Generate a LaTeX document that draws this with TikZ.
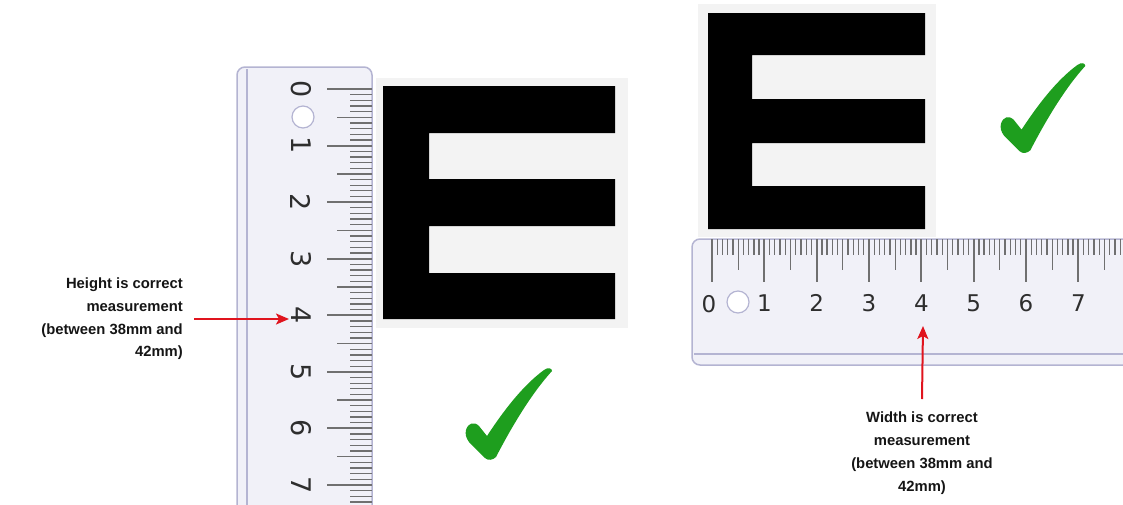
\documentclass[tikz,border=0pt]{standalone}
\usepackage{fontspec}
\setmainfont{Liberation Sans}
\newfontfamily\rulerfont{DejaVu Sans}
\usetikzlibrary{arrows.meta}
\definecolor{rulerfill}{HTML}{F1F1F8}
\definecolor{rulerline}{HTML}{B4B4D2}
\definecolor{tickgray}{HTML}{707070}
\definecolor{numgray}{HTML}{2E2E2E}
\definecolor{egray}{HTML}{F3F3F3}
\definecolor{checkgreen}{HTML}{1E9E1E}
\definecolor{arrred}{HTML}{E0141E}
\definecolor{labelgray}{HTML}{151515}
\tikzset{
  rulerbody/.style={fill=rulerfill, draw=rulerline, line width=1.5pt, rounded corners=8pt},
  rulerinner/.style={draw=rulerline, line width=1.2pt},
  tickmm/.style={draw=tickgray, line width=1.3pt},
  tickcm/.style={draw=tickgray, line width=2pt},
  hole/.style={circle, fill=white, draw=rulerline, line width=1.2pt, minimum size=22pt, inner sep=0pt},
  lnum/.style={font=\rulerfont\fontsize{27}{27}\selectfont, text=numgray, inner sep=0pt, rotate=-90},
  rnum/.style={font=\rulerfont\fontsize{23}{23}\selectfont, text=numgray, inner sep=0pt},
  ebg/.style={fill=egray, draw=none},
  eletter/.style={fill=black, draw=none},
  tick mark/.style={fill=checkgreen, draw=none},
  label/.style={font=\bfseries\fontsize{14.8}{22.7}\selectfont, text=labelgray, inner sep=0pt},
  redarrow/.style={draw=arrred, line width=2pt, -{Stealth[length=13pt,width=11pt,inset=3pt]}}
}
\begin{document}
\begin{tikzpicture}[x=1pt,y=-1pt]
\useasboundingbox (0,0) rectangle (1123,504);
\clip (0,0) rectangle (1123,504);
\fill[white] (0,0) rectangle (1123,504);

% ---------- left ruler ----------
\path[rulerbody] (237,530) -- (237,67) -- (372,67) -- (372,530) -- cycle;
\draw[rulerinner] (247,69) -- (247,530);
\foreach \i in {0,...,74}{
  \pgfmathtruncatemacro\m{mod(\i,10)}
  \ifnum\m=0
    \draw[tickcm] (372,{89+5.657*\i}) -- ++(-45,0);
  \else\ifnum\m=5
    \draw[tickmm] (372,{89+5.657*\i}) -- ++(-35,0);
  \else
    \draw[tickmm] (372,{89+5.657*\i}) -- ++(-22,0);
  \fi\fi
}
\node[lnum] (l0) at (301,89) {0};
\node[hole] (lhole) at (303,117) {};
\foreach \k in {1,...,7}{
  \node[lnum] (l\k) at (301,{89+56.57*\k}) {\k};
}

% ---------- left E ----------
\path[ebg] (376,78) rectangle (628,328);
\path[eletter] (383,86) -- (615,86) -- (615,133) -- (429,133) -- (429,179) -- (615,179)
  -- (615,226) -- (429,226) -- (429,273) -- (615,273) -- (615,319) -- (383,319) -- cycle;

% ---------- right E ----------
\path[ebg] (698,4) rectangle (936,237);
\path[eletter] (708,13) -- (925,13) -- (925,55) -- (752,55) -- (752,99) -- (925,99)
  -- (925,143) -- (752,143) -- (752,186) -- (925,186) -- (925,229) -- (708,229) -- cycle;

% ---------- right ruler ----------
\path[rulerbody] (1140,239) -- (692,239) -- (692,365) -- (1140,365) -- cycle;
\draw[rulerinner] (694,354) -- (1140,354);
\foreach \i in {0,...,79}{
  \pgfmathtruncatemacro\m{mod(\i,10)}
  \ifnum\m=0
    \draw[tickcm] ({712+5.233*\i},239) -- ++(0,43);
  \else\ifnum\m=5
    \draw[tickmm] ({712+5.233*\i},239) -- ++(0,31);
  \else
    \draw[tickmm] ({712+5.233*\i},239) -- ++(0,16);
  \fi\fi
}
\node[rnum] (r0) at (709,304) {0};
\node[hole] (rhole) at (738,302) {};
\foreach \k in {1,...,7}{
  \node[rnum] (r\k) at ({712+52.33*\k},303) {\k};
}

% ---------- check marks ----------
\path[tick mark, shift={(465,368)}]
  (1,62) .. controls (0,66) and (1,70) .. (4,74) -- (20,90)
  .. controls (23,93) and (28,92) .. (31,89)
  .. controls (46,60) and (66,26) .. (87,3)
  .. controls (87,0) and (83,-1) .. (79,2)
  .. controls (57,18) and (37,45) .. (22,68) -- (14,58)
  .. controls (9,53) and (3,55) .. (1,62) -- cycle;
\path[tick mark, shift={(1000,63)}, scale=0.98]
  (1,62) .. controls (0,66) and (1,70) .. (4,74) -- (20,90)
  .. controls (23,93) and (28,92) .. (31,89)
  .. controls (46,60) and (66,26) .. (87,3)
  .. controls (87,0) and (83,-1) .. (79,2)
  .. controls (57,18) and (37,45) .. (22,68) -- (14,58)
  .. controls (9,53) and (3,55) .. (1,62) -- cycle;

% ---------- labels and arrows ----------
\node[label, align=right, anchor=east] (hlabel) at (183,319)
  {Height is correct\\measurement\\(between 38mm and\\42mm)};
\coordinate (htip) at (289,319);
\draw[redarrow] ([xshift=11pt]hlabel.east) -- (htip);

\node[label, align=center, anchor=north] (wlabel) at (922,412)
  {Width is correct\\measurement\\(between 38mm and\\42mm)};
\coordinate (wtip) at (923,326);
\draw[redarrow] ([yshift=13pt]wlabel.north) -- (wtip);
\end{tikzpicture}
\end{document}
